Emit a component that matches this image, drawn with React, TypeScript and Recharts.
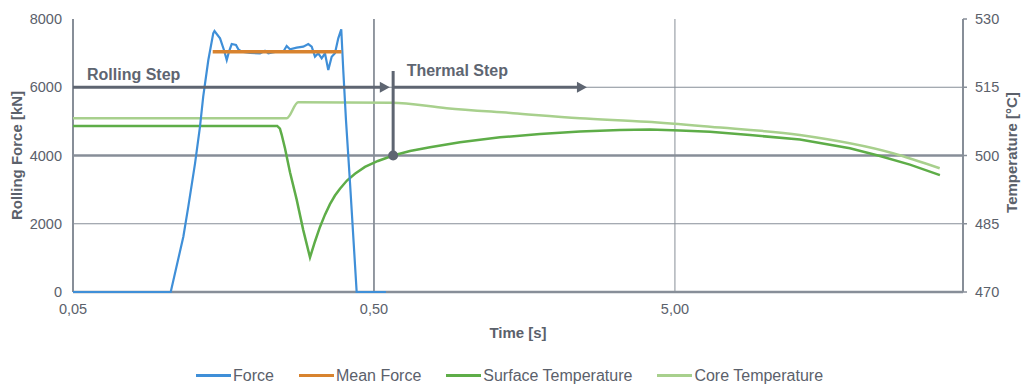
import React from 'react';
import { ComposedChart, Line, XAxis, YAxis, ReferenceLine, ReferenceDot, Legend } from 'recharts';

// ---- data (time in s, log axis) ----
const forceTime = [0.05, 0.1056, 0.1163, 0.1208, 0.1272, 0.1321, 0.1354, 0.1408, 0.1462, 0.1476, 0.154, 0.1587, 0.1621, 0.1649, 0.1684, 0.174, 0.1771, 0.1818, 0.1937, 0.2091, 0.2172, 0.2228, 0.2345, 0.2498, 0.2564, 0.263, 0.2768, 0.2911, 0.3025, 0.3105, 0.3184, 0.3265, 0.3351, 0.3437, 0.3525, 0.3618, 0.371, 0.3805, 0.3893, 0.3953, 0.4036, 0.4161, 0.438, 0.548];
const forceValue = [0, 0, 1620, 2500, 3771, 4844, 5723, 6799, 7581, 7648, 7434, 7092, 6799, 7042, 7267, 7238, 7112, 7042, 7004, 6995, 7071, 6995, 7033, 7042, 7209, 7112, 7159, 7188, 7267, 7188, 6895, 6995, 6848, 6995, 6505, 6895, 6995, 7434, 7698, 6505, 5040, 3223, 0, 0];

const meanForceTime = [0.1456, 0.39];
const meanForceValue = [7040, 7040];

const surfaceTime = [0.05, 0.2385, 0.2435, 0.2467, 0.2531, 0.263, 0.2768, 0.2911, 0.3065, 0.3184, 0.3308, 0.3437, 0.3571, 0.371, 0.3855, 0.4067, 0.4324, 0.4667, 0.5155, 0.579, 0.6586, 0.7675, 0.9655, 1.311, 1.78, 2.417, 3.283, 4.13, 5.195, 6.535, 8.875, 13.01, 19.07, 23.99, 30.18, 37.97];
const surfaceValue = [506.5, 506.5, 505.9, 504.6, 501.6, 496.3, 490.3, 483.6, 477.6, 481.1, 484.3, 487.0, 489.3, 491.2, 492.7, 494.5, 496.0, 497.5, 498.8, 500.0, 501.0, 501.8, 502.9, 504.0, 504.7, 505.3, 505.6, 505.7, 505.5, 505.2, 504.5, 503.5, 501.6, 499.9, 498.0, 495.7];

const coreTime = [0.05, 0.2565, 0.28, 0.573, 0.872, 1.451, 2.417, 4.03, 6.54, 13.0, 26.5, 37.9];
const coreValue = [508.2, 508.2, 511.7, 511.6, 510.4, 509.3, 508.2, 507.4, 506.3, 504.5, 500.5, 497.2];

const xTicks = [0.05, 0.5, 5];
const forceTicks = [0, 2000, 4000, 6000, 8000];
const tempTicks = [470, 485, 500, 515, 530];

const rollingStep = { start: 0.05, end: 0.5645, level: 6000, label: 'Rolling Step' };
const thermalStep = { start: 0.579, end: 2.55, level: 6000, label: 'Thermal Step', top: 6476, mark: 4000 };

const zip = (t: number[], v: number[]) => t.map((x, i) => ({ t: x, v: v[i] }));
const forceData = zip(forceTime, forceValue);
const meanData = zip(meanForceTime, meanForceValue);
const surfaceData = zip(surfaceTime, surfaceValue);
const coreData = zip(coreTime, coreValue);

const TEXT = '#5b616b';
const AXIS = '#878e98';
const ANNO = '#5e6571';
const BLUE = '#3f8fd8';
const ORANGE = '#d8832f';
const GREEN = '#5ead48';
const LGREEN = '#a8d08d';
const FONT = '"Liberation Sans", Arial, sans-serif';

const legendItems = [
  { name: 'Force', color: BLUE },
  { name: 'Mean Force', color: ORANGE },
  { name: 'Surface Temperature', color: GREEN },
  { name: 'Core Temperature', color: LGREEN },
];

const arrowShape = (label: string, dx: number, dy: number) => (p: any) => {
  const { x1, y1, x2, y2 } = p;
  return (
    <g>
      <line x1={x1} y1={y1} x2={x2 - 6} y2={y2} stroke={ANNO} strokeWidth={3} />
      <polygon points={`${x2},${y2} ${x2 - 10},${y2 - 5.5} ${x2 - 10},${y2 + 5.5}`} fill={ANNO} />
      <text x={x1 + dx} y={y1 + dy} fill={ANNO} fontSize={16} fontWeight="bold" fontFamily={FONT} dominantBaseline="central">
        {label}
      </text>
    </g>
  );
};

const renderLegend = () => (
  <div style={{ height: 43, boxSizing: 'border-box', paddingTop: 24, paddingLeft: 196, display: 'flex', alignItems: 'center', fontFamily: FONT, fontSize: 16, color: TEXT }}>
    {legendItems.map((it, i) => (
      <div key={it.name} style={{ display: 'flex', alignItems: 'center', marginRight: i < legendItems.length - 1 ? 25 : 0 }}>
        <div style={{ width: 35, height: 3, background: it.color, marginRight: 2 }} />
        <span>{it.name}</span>
      </div>
    ))}
  </div>
);

export default function App() {
  return (
    <div style={{ position: 'absolute', left: 0, top: 0, width: 1024, height: 385, background: '#fff' }}>
      <ComposedChart width={1024} height={385} margin={{ top: 19, right: 0, bottom: 0, left: 0 }}>
        <XAxis
          dataKey="t"
          type="number"
          scale="log"
          domain={[0.05, 45.3]}
          allowDataOverflow
          ticks={xTicks}
          tickFormatter={(v: number) => v.toFixed(2).replace('.', ',')}
          tickLine={false}
          tickSize={0}
          tickMargin={12}
          axisLine={false}
          tick={{ fill: TEXT, fontSize: 14.5, fontFamily: FONT }}
          height={50}
          label={{ value: 'Time [s]', position: 'insideBottom', offset: 4, fill: TEXT, fontSize: 15, fontWeight: 'bold', fontFamily: FONT }}
        />
        <YAxis
          yAxisId="left"
          type="number"
          domain={[0, 8000]}
          ticks={forceTicks}
          width={73}
          tickLine={false}
          tickSize={0}
          tickMargin={11}
          axisLine={false}
          tick={{ fill: TEXT, fontSize: 14.5, fontFamily: FONT }}
          label={{
            content: (props: any) => {
              const vb = props.viewBox;
              const cx = vb.x + 16.7;
              const cy = vb.y + vb.height / 2;
              return (
                <text x={cx} y={cy} transform={`rotate(-90 ${cx} ${cy})`} textAnchor="middle" dominantBaseline="central" fill={TEXT} fontSize={15} fontWeight="bold" fontFamily={FONT}>
                  Rolling Force [kN]
                </text>
              );
            },
          }}
        />
        <YAxis
          yAxisId="right"
          orientation="right"
          type="number"
          domain={[470, 530]}
          ticks={tempTicks}
          width={61}
          tickSize={4}
          tickMargin={8}
          tickLine={{ stroke: AXIS, strokeWidth: 1.5 }}
          axisLine={{ stroke: AXIS, strokeWidth: 2 }}
          tick={{ fill: TEXT, fontSize: 14.5, fontFamily: FONT, textAnchor: 'start' }}
          label={{
            content: (props: any) => {
              const vb = props.viewBox;
              const cx = vb.x + 48.7;
              const cy = vb.y + vb.height / 2 - 3;
              return (
                <text x={cx} y={cy} transform={`rotate(-90 ${cx} ${cy})`} textAnchor="middle" dominantBaseline="central" fill={TEXT} fontSize={15} fontWeight="bold" fontFamily={FONT}>
                  Temperature [°C]
                </text>
              );
            },
          }}
        />

        <ReferenceLine yAxisId="left" y={0} stroke={AXIS} strokeWidth={2.5} />
        <ReferenceLine yAxisId="left" x={0.05} stroke={AXIS} strokeWidth={2} />
        <ReferenceLine yAxisId="left" y={2000} stroke={AXIS} strokeWidth={1} />
        <ReferenceLine yAxisId="left" y={4000} stroke={AXIS} strokeWidth={2.5} />
        <ReferenceLine yAxisId="left" y={6000} stroke={AXIS} strokeWidth={1} />
        <ReferenceLine yAxisId="left" x={0.5} stroke={AXIS} strokeWidth={1.8} />
        <ReferenceLine yAxisId="left" x={5} stroke={AXIS} strokeWidth={1} />

        <Line yAxisId="right" data={coreData} dataKey="v" name="Core Temperature" type="monotone" stroke={LGREEN} strokeWidth={2.5} dot={false} isAnimationActive={false} />
        <Line yAxisId="right" data={surfaceData} dataKey="v" name="Surface Temperature" type="linear" stroke={GREEN} strokeWidth={2.5} dot={false} isAnimationActive={false} />
        <Line yAxisId="left" data={forceData} dataKey="v" name="Force" type="linear" stroke={BLUE} strokeWidth={2.2} dot={false} isAnimationActive={false} />
        <Line yAxisId="left" data={meanData} dataKey="v" name="Mean Force" type="linear" stroke={ORANGE} strokeWidth={3.5} dot={false} isAnimationActive={false} />

        <ReferenceLine
          yAxisId="left"
          segment={[{ x: rollingStep.start, y: rollingStep.level }, { x: rollingStep.end, y: rollingStep.level }]}
          shape={arrowShape(rollingStep.label, 14, -13)}
        />
        <ReferenceLine
          yAxisId="left"
          segment={[{ x: thermalStep.start, y: thermalStep.level }, { x: thermalStep.end, y: thermalStep.level }]}
          shape={arrowShape(thermalStep.label, 13.5, -16.6)}
        />
        <ReferenceLine
          yAxisId="left"
          segment={[{ x: thermalStep.start, y: thermalStep.top }, { x: thermalStep.start, y: thermalStep.mark }]}
          stroke={ANNO}
          strokeWidth={3}
        />
        <ReferenceDot yAxisId="left" x={thermalStep.start} y={thermalStep.mark} r={5} fill={ANNO} stroke="none" />

        <Legend verticalAlign="bottom" content={renderLegend} />
      </ComposedChart>
    </div>
  );
}
